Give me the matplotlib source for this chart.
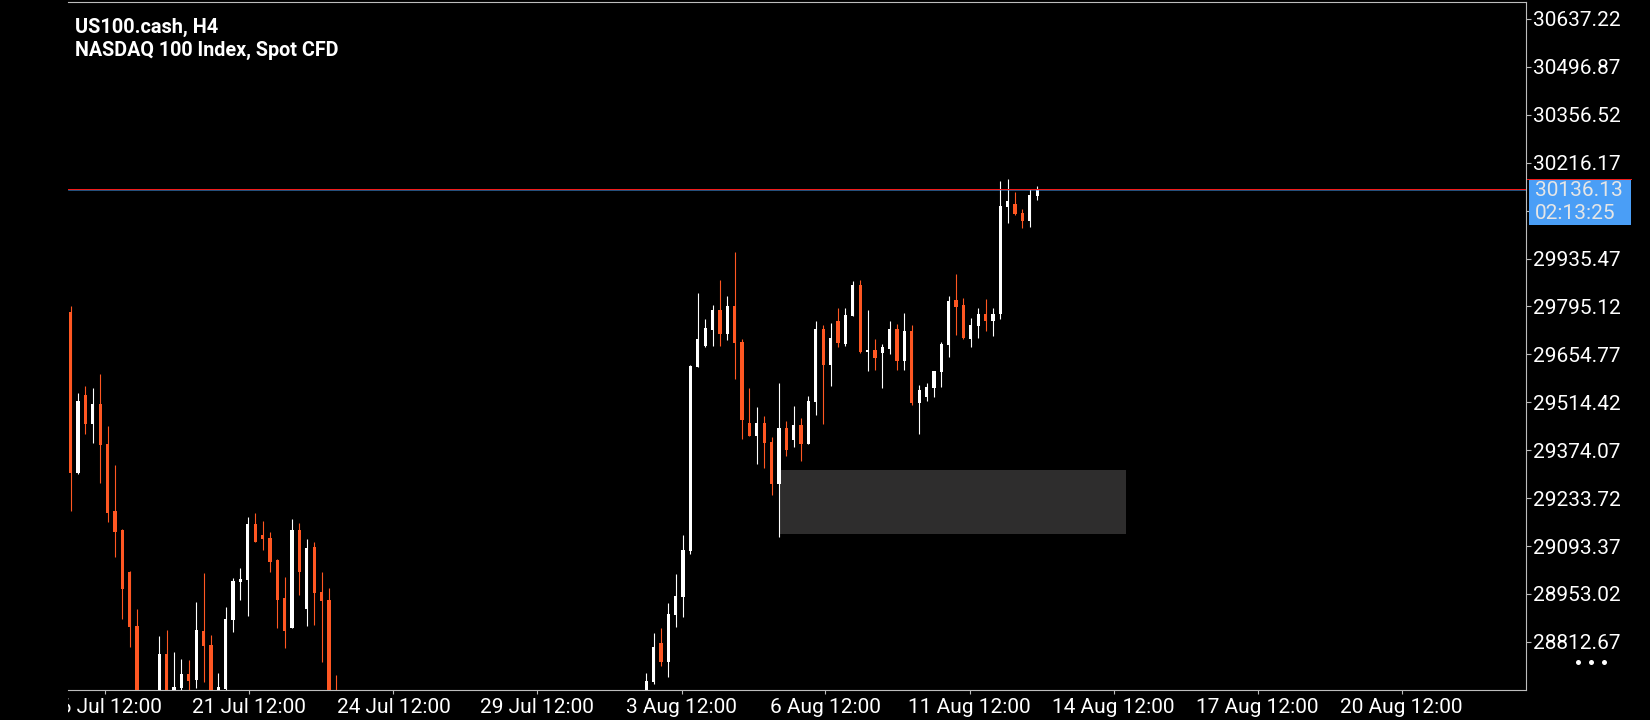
import matplotlib
matplotlib.use("Agg")
import matplotlib.pyplot as plt
from matplotlib.transforms import IdentityTransform, Bbox, TransformedBbox
from matplotlib.patches import Rectangle
from matplotlib.lines import Line2D

plt.rcParams["font.family"] = ["Roboto", "DejaVu Sans"]

# ---------------- data (H4 candles, bar index = position) ----------------
gap = [None] * 41   # bars 37..77 lie entirely below the visible price range

opens = [29778.8, 29308.2, 29535.8, 29450.8, 29509.4, 29392.2, 29196.0, 29140.4, 29017.4, 28859.2,
         None, None, 28640.0, 28777.2, 28650.0, 28678.5, 28718.7, 28701.1, 28844.6, 28803.6,
         28650.0, 28675.0, 28876.8, 28988.1, 28994.0, 29158.0, 29125.7, 29117.0, 29052.5, 28941.2,
         28854.2, 29140.4, 28909.9, 29090.6, 28958.8, 28935.4, 28650.0] + gap + [
         28660.0, 28695.2, 28809.4, 28753.8, 28891.4, 28944.2, 29078.9, 29617.8, 29679.3, 29726.1,
         29784.7, 29714.4, 29796.4, 29691.0, 29453.7, 29415.7, 29453.7, 29398.1, 29275.1, 29439.1,
         29404.0, 29447.9, 29392.2, 29515.2, 29729.1, 29623.6, 29752.5, 29685.1, 29767.1, 29857.9,
         29661.7, 29667.6, 29658.8, 29670.5, 29729.1, 29635.3, 29723.2, 29512.3, 29529.9, 29556.2,
         29603.1, 29682.2, 29814.0, 29799.3, 29699.8, 29737.8, 29773.0, 29752.5, 29773.0, 30086.4,
         30095.1, 30068.8, 30045.4, 30118.6]

highs = [29796.4, 29540.7, 29561.2, 29556.2, 29597.2, 29445.0, 29330.7, 29143.3, 29019.4, 28909.0,
         None, None, 28829.9, 28847.5, 28783.1, 28762.6, 28759.6, 28929.5, 29014.4, 28832.9,
         28721.6, 28914.9, 28999.8, 29029.1, 29177.6, 29189.3, 29165.9, 29134.5, 29055.5, 29001.9,
         29172.6, 29160.9, 29114.0, 29105.2, 29017.4, 28969.6, 28715.7] + gap + [
         28721.6, 28838.7, 28853.4, 28926.6, 29011.5, 29125.7, 29623.6, 29834.5, 29758.3, 29799.3,
         29872.5, 29825.7, 29954.6, 29699.8, 29556.2, 29500.6, 29474.2, 29412.7, 29570.9, 29459.6,
         29503.5, 29468.4, 29532.8, 29752.5, 29740.8, 29746.6, 29790.6, 29790.6, 29869.6, 29872.5,
         29784.7, 29699.8, 29685.1, 29752.5, 29743.7, 29775.9, 29740.8, 29565.0, 29570.9, 29607.0,
         29691.0, 29825.7, 29890.1, 29819.8, 29761.2, 29790.6, 29816.9, 29790.6, 30162.5, 30168.4,
         30130.3, 30080.5, 30139.1, 30147.9]

lows = [29196.9, 29303.5, 29421.5, 29395.2, 29278.9, 29164.7, 29062.2, 28880.6, 28798.6, 28580.0,
        None, None, 28600.0, 28600.0, 28620.0, 28665.0, 28650.0, 28678.5, 28696.1, 28620.0,
        28630.0, 28660.0, 28842.5, 28935.4, 28888.5, 29104.0, 29081.8, 29018.3, 28854.2, 28795.7,
        28852.0, 28950.0, 28859.2, 28863.0, 28754.7, 28600.0, 28560.0] + gap + [
        28640.0, 28690.2, 28742.1, 28709.9, 28856.3, 28885.6, 29070.1, 29617.0, 29676.3, 29679.3,
        29679.3, 29696.8, 29582.6, 29406.9, 29415.0, 29333.7, 29322.0, 29242.9, 29120.8, 29357.1,
        29383.5, 29342.5, 29391.0, 29477.2, 29450.8, 29562.1, 29676.3, 29679.3, 29766.0, 29658.8,
        29606.0, 29609.0, 29556.2, 29655.8, 29609.0, 29609.0, 29506.5, 29421.5, 29518.2, 29529.9,
        29559.2, 29647.0, 29711.5, 29701.0, 29676.3, 29702.7, 29723.2, 29708.6, 29758.3, 30039.5,
        30064.0, 30024.9, 30027.8, 30106.9]

closes = [29308.2, 29518.2, 29450.8, 29509.4, 29389.3, 29191.0, 29135.4, 28968.4, 28857.2, 28620.0,
          None, None, 28777.2, 28640.0, 28681.4, 28718.7, 28699.0, 28847.5, 28800.6, 28650.0,
          28681.4, 28879.7, 28991.0, 28996.9, 29158.0, 29106.1, 29114.0, 29047.5, 28935.4, 28845.5,
          29140.4, 29018.3, 29087.7, 28956.8, 28933.3, 28640.0, 28600.0] + gap + [
          28699.0, 28797.7, 28753.8, 28894.4, 28947.1, 29081.8, 29620.7, 29699.8, 29732.0, 29784.7,
          29714.4, 29796.4, 29688.0, 29462.5, 29415.7, 29453.7, 29395.2, 29275.1, 29439.1, 29374.7,
          29447.9, 29392.2, 29518.2, 29729.1, 29623.6, 29702.7, 29688.0, 29770.1, 29857.9, 29661.7,
          29667.6, 29644.1, 29676.3, 29729.1, 29635.3, 29723.2, 29512.3, 29550.4, 29559.2, 29606.0,
          29685.1, 29811.1, 29793.5, 29702.7, 29740.8, 29773.0, 29752.5, 29773.0, 30089.3, 30103.9,
          30065.9, 30045.4, 30121.5, 30136.13]

bid_price = 30136.13
ask_price = 30139.5
countdown = "02:13:25"

# demand zone rectangle (bar index start/end, price bottom/top)
zone_bars = (96, 143)
zone_prices = (29128.6, 29316.1)

y_ticks = [28812.67, 28953.02, 29093.37, 29233.72, 29374.07, 29514.42, 29654.77,
           29795.12, 29935.47, 30075.82, 30216.17, 30356.52, 30496.87, 30637.22]
hidden_y_tick = 30075.82   # its label sits under the current-price box
x_tick_pos = [4.69, 24.21, 43.74, 63.26, 82.79, 102.3, 121.84, 141.35, 160.88, 180.4]
x_tick_labels = ["16 Jul 12:00", "21 Jul 12:00", "24 Jul 12:00", "29 Jul 12:00",
                 "3 Aug 12:00", "6 Aug 12:00", "11 Aug 12:00", "14 Aug 12:00",
                 "17 Aug 12:00", "20 Aug 12:00"]

title1 = "US100.cash, H4"
title2 = "NASDAQ 100 Index, Spot CFD"

# ---------------- styling ----------------
BULL = "#ffffff"
BEAR = "#ff5722"
GRID = "#bdbdbd"
ZONE = "#2e2d2d"
BOX = "#4a9ef6"

W, H = 1650, 720
fig = plt.figure(figsize=(W / 100, H / 100), dpi=100, facecolor="black")
ax = fig.add_axes([68 / W, 30 / H, 1458 / W, 688 / H])
ax.set_facecolor("black")
ax.set_xlim(-0.366, 197.25)
ax.set_ylim(28671.8, 30686.7)

px = (30686.7 - 28671.8) / 688.0  # price per pixel

# zone
ax.add_patch(Rectangle((zone_bars[0], zone_prices[0]), zone_bars[1] - zone_bars[0],
                       zone_prices[1] - zone_prices[0], facecolor=ZONE, edgecolor="none", zorder=1))

# candles
for i, (o, h, l, c) in enumerate(zip(opens, highs, lows, closes)):
    if o is None:
        continue
    col = BULL if c >= o else BEAR
    ax.vlines(i, l, h, colors=col, linewidth=0.8, zorder=3)
    bottom = min(o, c)
    height = max(abs(c - o), px * 1.0)
    ax.bar(i, height, bottom=bottom, width=0.44, color=col, linewidth=0, zorder=4)

# price lines
ax.axhline(bid_price, color="#4a9ef6", linewidth=0.45, alpha=0.8, zorder=5)
ax.axhline(ask_price, color="#f01c1c", linewidth=0.72, zorder=6, antialiased=False)

# spines / ticks
ax.spines["left"].set_visible(False)
for s in ("top", "right", "bottom"):
    ax.spines[s].set_color(GRID)
    ax.spines[s].set_linewidth(0.8)

ax.yaxis.tick_right()
ax.set_yticks(y_ticks)
ax.set_yticklabels(["" if v == hidden_y_tick else f"{v:.2f}" for v in y_ticks])
ax.tick_params(axis="y", direction="out", length=3.6, width=0.8, color=GRID,
               labelcolor="white", labelsize=15, pad=1.5)
ax.set_xticks(x_tick_pos)
ax.set_xticklabels(x_tick_labels)
ax.tick_params(axis="x", direction="out", length=2.9, width=0.8, color=GRID,
               labelcolor="white", labelsize=15, pad=3.0)

clip = TransformedBbox(Bbox.from_extents(68 / W, 0, 1, 1), fig.transFigure)
for t in ax.get_xticklabels():
    t.set_clip_box(clip)
    t.set_clip_on(True)

# titles
fig.text(75 / W, 1 - 33.3 / H, title1, color="white", fontsize=14.4, fontweight="bold",
         va="baseline", ha="left")
fig.text(75 / W, 1 - 56.0 / H, title2, color="white", fontsize=14.2, fontweight="bold",
         va="baseline", ha="left")

# current price box on the right scale
ident = IdentityTransform()
yd = ax.transData.transform((0, bid_price))[1]
fig.add_artist(Rectangle((1529, yd - 35), 102, 46.4, transform=ident, facecolor=BOX,
                         edgecolor="none", zorder=6))
fig.add_artist(Line2D([1527, 1631], [yd + 11.4, yd + 11.4], transform=ident,
                      color="#f01c1c", linewidth=0.72, zorder=7))
fig.text(1535, yd - 0.5, f"{bid_price:.2f}", transform=ident, color="#e6e6e6",
         fontsize=15, va="center", ha="left", zorder=8)
fig.text(1535, yd - 23.5, countdown, transform=ident, color="#e6e6e6",
         fontsize=15, va="center", ha="left", zorder=8)

# menu dots
fig.add_artist(Line2D([1578, 1591, 1604], [H - 661.6] * 3, transform=ident, linestyle="none",
                      marker="o", markersize=3.6, color="white", markeredgewidth=0))

fig.savefig("out.png", dpi=100, facecolor="black")
